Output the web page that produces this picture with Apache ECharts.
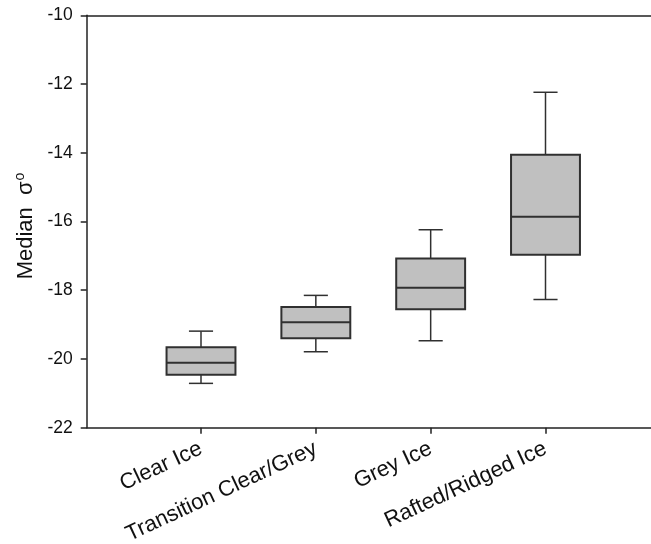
<!DOCTYPE html>
<html>
<head>
<meta charset="utf-8">
<script src="https://cdn.jsdelivr.net/npm/echarts@6/dist/echarts.min.js"></script>
<style>
  html, body {margin: 0; padding: 0; background: #fff;}
  #chart {width: 651px; height: 544px;}
</style>
</head>
<body>
<div id="chart"></div>
<script>
const categories = ['Clear Ice', 'Transition Clear/Grey', 'Grey Ice', 'Rafted/Ridged Ice'];
const whiskerLow = [-20.71, -19.79, -19.47, -18.27];
const q1 = [-20.46, -19.40, -18.55, -16.97];
const median = [-20.11, -18.93, -17.93, -15.86];
const q3 = [-19.66, -18.49, -17.08, -14.06];
const whiskerHigh = [-19.19, -18.15, -16.24, -12.24];
const yTicks = [-22, -20, -18, -16, -14, -12, -10];

const boxData = categories.map((c, i) => [i, whiskerLow[i], q1[i], median[i], q3[i], whiskerHigh[i]]);

const ink = '#222';
const lineCol = '#303030';
const font = 'Liberation Sans, Arial, sans-serif';

const chart = echarts.init(document.getElementById('chart'));

chart.setOption({
  animation: false,
  grid: [
    // frame: left axis, top & bottom lines
    {left: 86.7, right: 0, top: 15.3, bottom: 116.3, outerBoundsMode: 'none'},
    // the boxes sit on this one, from first to last category
    {left: 201, width: 344.5, top: 15.3, bottom: 116.3, outerBoundsMode: 'none'}
  ],
  xAxis: [
    {
      gridIndex: 0, type: 'value', min: 0, max: 1, position: 'bottom',
      axisLine: {show: true, lineStyle: {color: ink, width: 1.5}},
      axisTick: {show: false}, axisLabel: {show: false}, splitLine: {show: false}
    },
    {
      gridIndex: 0, type: 'value', min: 0, max: 1, position: 'top',
      axisLine: {show: true, lineStyle: {color: ink, width: 1.5}},
      axisTick: {show: false}, axisLabel: {show: false}, splitLine: {show: false}
    },
    {
      gridIndex: 1, type: 'category', data: categories, boundaryGap: false,
      axisLine: {show: false},
      axisTick: {show: true, length: 6, lineStyle: {color: ink, width: 1.5}},
      axisLabel: {
        rotate: 25, margin: 20, color: '#111',
        fontSize: 22, fontFamily: font, interval: 0
      },
      splitLine: {show: false}
    }
  ],
  yAxis: [
    {
      gridIndex: 0, type: 'value', min: -22, max: -10, interval: 2,
      axisLine: {show: true, lineStyle: {color: ink, width: 1.5}},
      axisTick: {show: true, length: 6, lineStyle: {color: ink, width: 1.5}},
      axisLabel: {
        margin: 14, color: '#111', fontSize: 17.5, fontFamily: font,
        formatter: v => yTicks.includes(v) ? String(v) : ''
      },
      splitLine: {show: false},
      name: '{n|Median  σ}{s|o}',
      nameLocation: 'middle',
      nameGap: 48,
      nameTextStyle: {
        padding: [0, 9, 0, 0],
        rich: {
          n: {fontSize: 22, fontFamily: font, color: '#111'},
          s: {fontSize: 14, fontFamily: font, color: '#111', verticalAlign: 'top', padding: [0, 0, 10, 1]}
        }
      }
    },
    {gridIndex: 1, type: 'value', min: -22, max: -10, show: false}
  ],
  series: [{
    type: 'custom',
    xAxisIndex: 2,
    yAxisIndex: 1,
    data: boxData,
    encode: {x: 0, y: [1, 2, 3, 4, 5]},
    renderItem(params, api) {
      const i = api.value(0);
      const band = api.size([1, 0])[0];
      const bw = band * 0.6;
      const cap = band * 0.21;
      const pLow = api.coord([i, api.value(1)]);
      const pQ1 = api.coord([i, api.value(2)]);
      const pMed = api.coord([i, api.value(3)]);
      const pQ3 = api.coord([i, api.value(4)]);
      const pHigh = api.coord([i, api.value(5)]);
      const x = pMed[0];
      const st = {stroke: lineCol, lineWidth: 1.5, fill: null};
      const seg = (x1, y1, x2, y2, w) => ({
        type: 'line', shape: {x1, y1, x2, y2},
        style: Object.assign({}, st, {lineWidth: w || 1.5})
      });
      return {
        type: 'group',
        children: [
          seg(x, pHigh[1], x, pQ3[1]),
          seg(x, pQ1[1], x, pLow[1]),
          seg(x - cap / 2, pHigh[1], x + cap / 2, pHigh[1]),
          seg(x - cap / 2, pLow[1], x + cap / 2, pLow[1]),
          {
            type: 'rect',
            shape: {x: x - bw / 2, y: pQ3[1], width: bw, height: pQ1[1] - pQ3[1]},
            style: {fill: '#c0c0c0', stroke: lineCol, lineWidth: 2}
          },
          seg(x - bw / 2, pMed[1], x + bw / 2, pMed[1], 2)
        ]
      };
    }
  }]
});
</script>
</body>
</html>
